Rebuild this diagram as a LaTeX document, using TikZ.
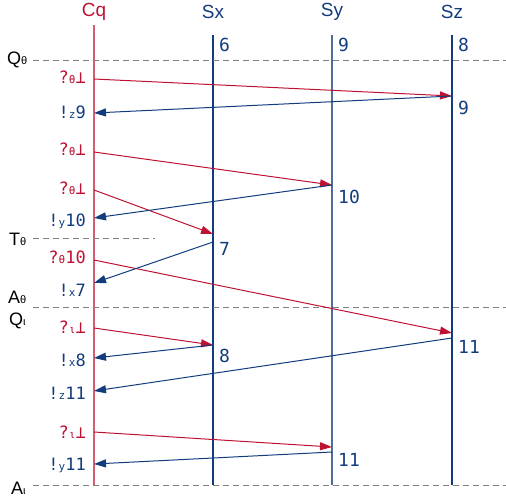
\documentclass[tikz,border=0pt]{standalone}
\usepackage{fontspec}
\setmainfont{Liberation Sans}
\newfontfamily\msgfont{DejaVu Sans Mono}
\usetikzlibrary{arrows.meta}
\definecolor{cqred}{RGB}{190,18,50}
\definecolor{cqpink}{RGB}{214,92,112}
\definecolor{srvblue}{RGB}{18,60,125}
\newcommand{\lowsub}[1]{{\fontsize{11}{11}\selectfont #1}}

\begin{document}
\begin{tikzpicture}[x=1pt,y=-1pt]
\tikzset{
  header/.style={font=\fontsize{19}{19}\selectfont},
  lifeline/.style={srvblue,line width=1.1pt},
  phase/.style={gray,dashed,dash pattern=on 6pt off 4pt,line width=0.8pt},
  phaselabel/.style={anchor=west,inner sep=0pt,font=\fontsize{18}{18}\selectfont},
  query/.style={cqred,line width=1pt,-{Triangle[length=12pt,width=8pt]}},
  reply/.style={srvblue,line width=1pt,-{Triangle[length=12pt,width=8pt]}},
  qlabel/.style={cqred,anchor=east,inner sep=0pt,font=\msgfont\fontsize{17}{17}\selectfont},
  rlabel/.style={srvblue,anchor=east,inner sep=0pt,font=\msgfont\fontsize{17}{17}\selectfont},
  stamp/.style={srvblue,anchor=west,inner sep=0pt,font=\msgfont\fontsize{18}{18}\selectfont}
}
\useasboundingbox (0,0) rectangle (506,499);
% lifelines
\node[header,cqred] (cq) at (94,12) {Cq};
\node[header,srvblue] (sx) at (213,12) {Sx};
\node[header,srvblue] (sy) at (332,12) {Sy};
\node[header,srvblue] (sz) at (452,12) {Sz};
\coordinate (cq_b) at (94,485);
\coordinate (sx_b) at (213,485);
\coordinate (sy_b) at (332,485);
\coordinate (sz_b) at (452,485);
\draw[cqpink,line width=2.2pt] (94,25) -- (cq_b);
\draw[lifeline] (213,35) -- (sx_b);
\draw[lifeline,opacity=0.75] (332,35) -- (sy_b);
\draw[lifeline] (452,35) -- (sz_b);
\node[stamp] (sx_v) at (219,45) {6};
\node[stamp] (sy_v) at (338,45) {9};
\node[stamp] (sz_v) at (458,45) {8};
% phases
\node[phaselabel] (q_th) at (7,60) {Q\lowsub{θ}};
\coordinate (q_th_e) at (506,60);
\draw[phase] (33,60) -- (q_th_e);
\node[phaselabel] (t_th) at (9,239) {T\lowsub{θ}};
\coordinate (t_th_e) at (155,238);
\draw[phase] (33,238) -- (t_th_e);
\node[phaselabel] (a_th) at (8,297) {A\lowsub{θ}};
\coordinate (a_th_e) at (506,307);
\draw[phase] (33,307) -- (a_th_e);
\node[phaselabel] (q_io) at (9,321) {Q\lowsub{ι}};
\node[phaselabel] (a_io) at (11,488) {A\lowsub{ι}};
\coordinate (a_io_e) at (506,485);
\draw[phase] (33,485) -- (a_io_e);
% points on the lifelines
\coordinate (c1) at (94,79);   \coordinate (z1) at (452,96);
\coordinate (c2) at (94,113);
\coordinate (c3) at (94,152);  \coordinate (y1) at (332,185);
\coordinate (c4) at (94,190);  \coordinate (x1) at (213,234);
\coordinate (c5) at (94,218);
\coordinate (c6) at (94,260);  \coordinate (z2) at (452,333);
\coordinate (c7) at (94,283);  \coordinate (x1r) at (213,242);
\coordinate (c8) at (94,328);  \coordinate (x2) at (213,345);
\coordinate (c9) at (94,358);
\coordinate (c10) at (94,391); \coordinate (z2r) at (452,338);
\coordinate (c11) at (94,432); \coordinate (y2) at (332,447);
\coordinate (c12) at (94,464); \coordinate (y2r) at (332,452);
% messages
\draw[query] (c1) -- (z1);
\draw[reply] (z1) -- (c2);
\draw[query] (c3) -- (y1);
\draw[query] (c4) -- (x1);
\draw[reply] (y1) -- (c5);
\draw[query] (c6) -- (z2);
\draw[reply] (x1r) -- (c7);
\draw[query] (c8) -- (x2);
\draw[reply] (x2) -- (c9);
\draw[reply] (z2r) -- (c10);
\draw[query] (c11) -- (y2);
\draw[reply] (y2r) -- (c12);
% labels
\node[qlabel] at (86,77) {?\lowsub{θ}⊥};
\node[rlabel] at (86,112) {!\lowsub{z}9};
\node[qlabel] at (86,149) {?\lowsub{θ}⊥};
\node[qlabel] at (86,188) {?\lowsub{θ}⊥};
\node[rlabel] at (86,221) {!\lowsub{y}10};
\node[qlabel] at (86,257) {?\lowsub{θ}10};
\node[rlabel] at (86,290) {!\lowsub{x}7};
\node[qlabel] at (86,327) {?\lowsub{ι}⊥};
\node[rlabel] at (86,360) {!\lowsub{x}8};
\node[rlabel] at (86,393) {!\lowsub{z}11};
\node[qlabel] at (86,432) {?\lowsub{ι}⊥};
\node[rlabel] at (86,465) {!\lowsub{y}11};
\node[stamp] at (458,108) {9};
\node[stamp] at (338,197) {10};
\node[stamp] at (219,249) {7};
\node[stamp] at (458,347) {11};
\node[stamp] at (219,356) {8};
\node[stamp] at (338,460) {11};
\end{tikzpicture}
\end{document}
